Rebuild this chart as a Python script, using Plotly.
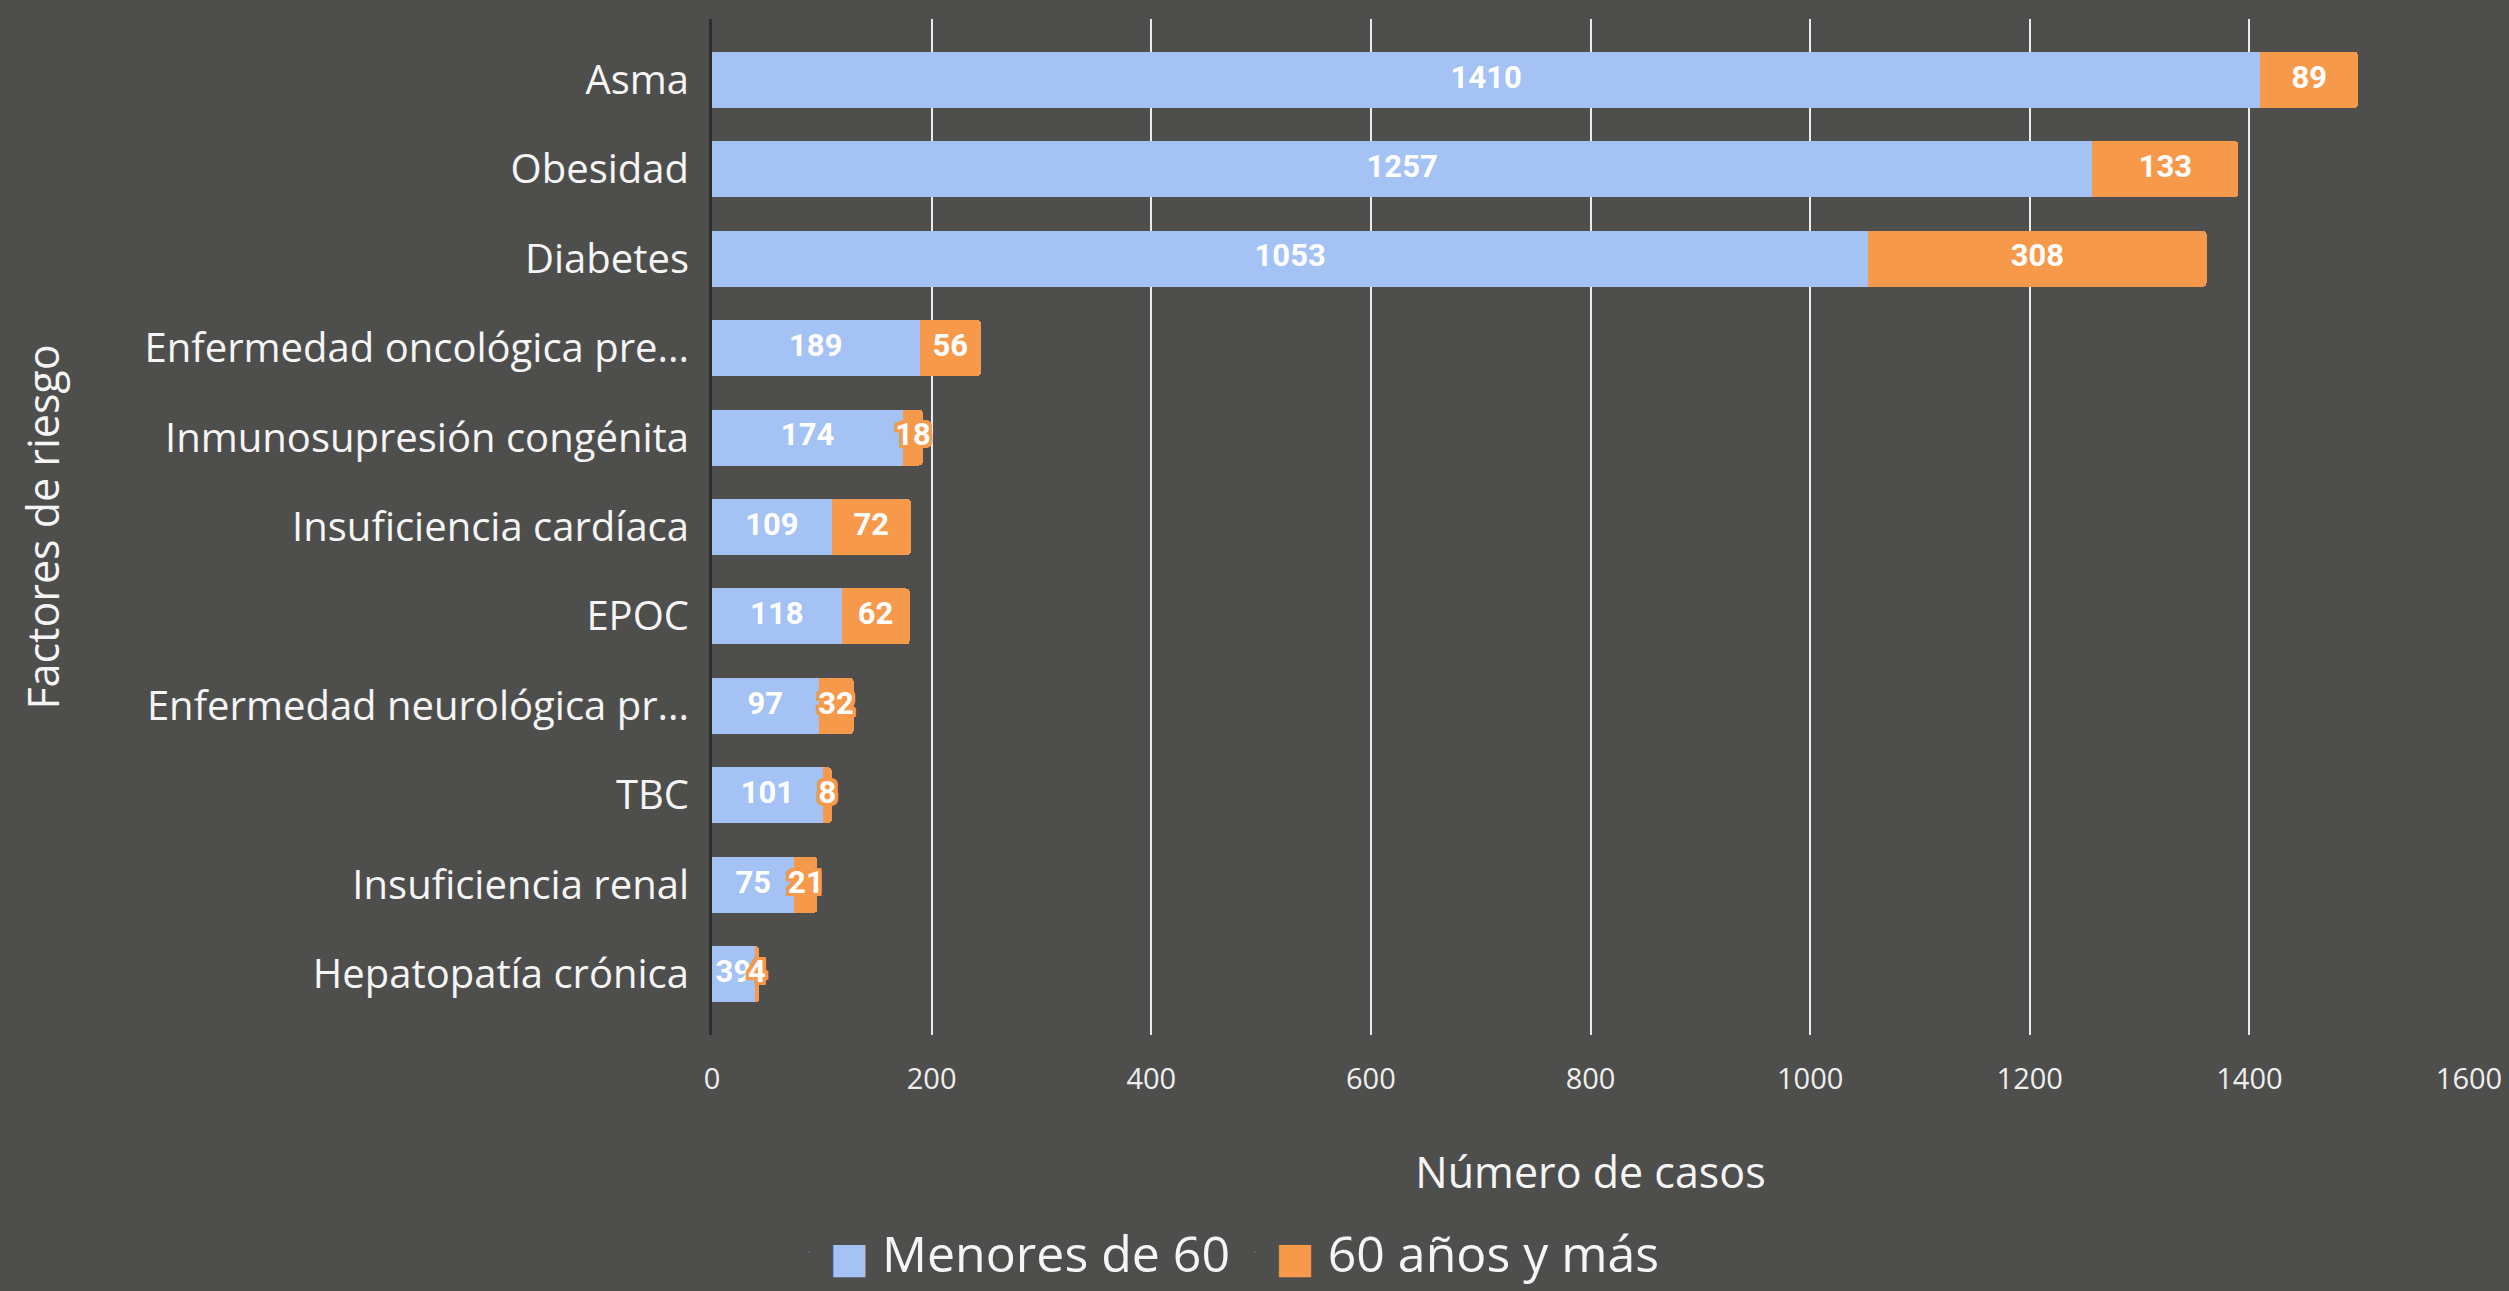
import plotly.graph_objects as go

categorias = [
    "Asma", "Obesidad", "Diabetes", "Enfermedad oncológica pre...",
    "Inmunosupresión congénita", "Insuficiencia cardíaca", "EPOC",
    "Enfermedad neurológica pr...", "TBC", "Insuficiencia renal",
    "Hepatopatía crónica",
]
menores_60 = [1410, 1257, 1053, 189, 174, 109, 118, 97, 101, 75, 39]
mayores_60 = [89, 133, 308, 56, 18, 72, 62, 32, 8, 21, 4]
x_ticks = [0, 200, 400, 600, 800, 1000, 1200, 1400, 1600]

BG = "#4e4e4c"
BLUE = "#a4c2f4"
ORANGE = "#f7994b"
FONT = "Open Sans"

halo = ", ".join(f"{dx}px {dy}px 0 {ORANGE}" for dx in (-3, -2, 0, 2, 3)
                 for dy in (-3, -2, 0, 2, 3) if (dx, dy) != (0, 0))

fig = go.Figure()
fig.add_trace(go.Bar(
    y=categorias, x=menores_60, orientation="h", name="Menores de 60",
    marker=dict(color=BLUE, line=dict(width=0)), showlegend=False,
    hoverinfo="x+y",
))
fig.add_trace(go.Bar(
    y=categorias, x=mayores_60, orientation="h", name="60 años y más",
    marker=dict(color=ORANGE, line=dict(width=0)), showlegend=False,
    hoverinfo="x+y",
))
# data labels, centred on each segment
fig.add_trace(go.Scatter(
    y=categorias, x=[v / 2 for v in menores_60], mode="text",
    text=[str(v) for v in menores_60], textposition="middle center",
    textfont=dict(family="Roboto", size=31, color="white", weight="bold"),
    showlegend=False, hoverinfo="skip", cliponaxis=False,
))
fig.add_trace(go.Scatter(
    y=categorias, x=[a + b / 2 for a, b in zip(menores_60, mayores_60)], mode="text",
    text=[str(v) for v in mayores_60], textposition="middle center",
    textfont=dict(family="Roboto", size=31, color="white", weight="bold", shadow=halo),
    showlegend=False, hoverinfo="skip", cliponaxis=False,
))
# legend entries
for nm, col in (("Menores de 60", BLUE), ("60 años y más", ORANGE)):
    fig.add_trace(go.Scatter(
        x=[None], y=[None], mode="markers",
        name=f"<span style='color:{col}; font-family:DejaVu Sans; font-size:42px'>■</span> {nm}",
        marker=dict(symbol="square", size=2, color=col, opacity=0),
    ))

fig.update_layout(
    width=2509, height=1291,
    paper_bgcolor=BG, plot_bgcolor=BG,
    barmode="stack", bargap=0.374, barcornerradius=4,
    margin=dict(l=712, r=40, t=19, b=256, autoexpand=False),
    font=dict(family=FONT, color="#f2f2f2"),
    showlegend=True,
    legend=dict(orientation="h", xref="container", yref="container",
                x=0.489, y=0.0, xanchor="center", yanchor="bottom",
                font=dict(size=50, color="#f5f5f5", family=FONT),
                traceorder="normal", bgcolor="rgba(0,0,0,0)"),
)
fig.update_xaxes(
    range=[0, 1600], tickvals=x_ticks, showgrid=True, gridcolor="#ececec", gridwidth=2,
    zeroline=False, showline=False, ticks="outside", ticklen=18, tickcolor=BG,
    tickfont=dict(size=29, color="#eeeeee", family=FONT),
    title=dict(text="Número de casos", font=dict(size=43, color="#f5f5f5", family=FONT), standoff=62),
    fixedrange=True,
)
fig.update_yaxes(
    type="category", categoryorder="array", categoryarray=categorias,
    range=[10.68, -0.68], showgrid=False, zeroline=False,
    showline=True, linecolor="#2e2e2e", linewidth=3,
    ticks="outside", ticklen=12, tickcolor="rgba(0,0,0,0)",
    tickfont=dict(size=40, color="#f5f5f5", family=FONT),
    title=dict(text="Factores de riesgo", font=dict(size=43, color="#f5f5f5", family=FONT), standoff=72),
    fixedrange=True,
)

fig.write_html(
    "out.html",
    config={"displayModeBar": False},
    post_script="document.body.style.margin='0';document.body.style.overflow='hidden';",
)
